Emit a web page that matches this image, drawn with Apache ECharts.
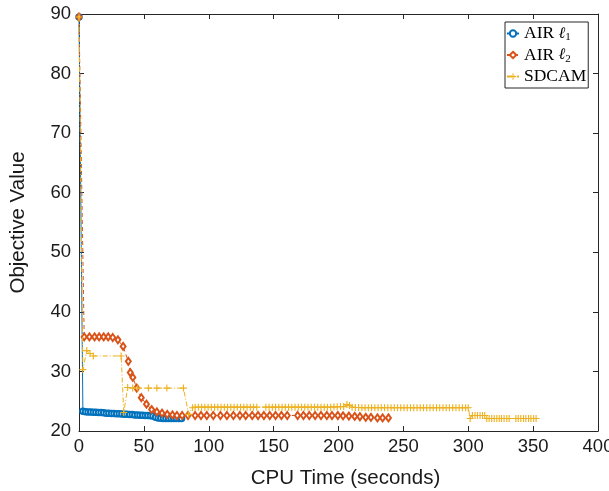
<!DOCTYPE html>
<html>
<head>
<meta charset="utf-8">
<script src="https://cdn.jsdelivr.net/npm/echarts@6/dist/echarts.min.js"></script>
<style>
  html, body { margin: 0; padding: 0; background: #ffffff; }
  #chart { width: 609px; height: 491px; }
</style>
</head>
<body>
<div id="chart"></div>
<script>
// Objective value versus CPU time for three solvers.
var xTicks = [0, 50, 100, 150, 200, 250, 300, 350, 400];
var yTicks = [20, 30, 40, 50, 60, 70, 80, 90];

var airL1Time = [0, 3, 5, 7, 9, 11, 13, 15, 17, 19, 21, 23, 25, 27, 29, 31, 33, 35, 37, 39, 41, 43, 45, 47, 49, 51, 53, 55, 57, 59, 61, 63, 65, 67, 69, 71, 73, 75, 77, 79];
var airL1Value = [89.5, 23.3, 23.25, 23.2, 23.2, 23.15, 23.15, 23.1, 23.1, 23.05, 23.0, 23.0, 22.95, 22.95, 22.9, 22.9, 22.85, 22.8, 22.8, 22.75, 22.75, 22.7, 22.7, 22.65, 22.65, 22.6, 22.6, 22.55, 22.5, 22.3, 22.2, 22.15, 22.1, 22.1, 22.1, 22.1, 22.1, 22.1, 22.1, 22.1];

var airL2Time = [0, 4, 8, 12, 15.5, 19, 22.5, 26, 30, 34, 38, 39.5, 41.5, 44.5, 48, 52, 56, 60, 64, 68, 72, 75.5, 79.5, 84, 89.5, 94, 98.5, 103.5, 109, 114, 119, 124, 128.5, 133.5, 138, 142.5, 147, 151.5, 156, 160.5, 168.5, 173, 177.5, 182, 186.5, 191, 195, 199.5, 203.5, 208, 212.5, 216.5, 221, 225, 230, 234, 238.5];
var airL2Value = [89.5, 35.8, 35.8, 35.8, 35.8, 35.8, 35.8, 35.7, 35.3, 34.2, 31.7, 29.8, 29.0, 27.2, 25.6, 24.5, 23.6, 23.2, 23.0, 22.8, 22.7, 22.6, 22.6, 22.6, 22.6, 22.6, 22.6, 22.6, 22.6, 22.6, 22.6, 22.6, 22.6, 22.6, 22.6, 22.6, 22.6, 22.6, 22.6, 22.6, 22.6, 22.6, 22.6, 22.6, 22.6, 22.6, 22.6, 22.6, 22.55, 22.5, 22.45, 22.4, 22.3, 22.3, 22.2, 22.2, 22.2];

var sdcamTime = [0, 3, 6, 8.5, 11, 32.5, 34.5, 37.5, 41.4, 45.3, 53.5, 60, 67.7, 80.5, 84.5, 87.5, 89.5, 92, 94.5, 97, 99.5, 102, 104.5, 107, 109.5, 112, 114.5, 117, 119.5, 122, 124.5, 127, 129.5, 132, 134.5, 137, 144, 146.5, 149, 151.5, 154, 156.5, 159, 161.5, 164, 166.5, 169, 171.5, 174, 176.5, 179, 181.5, 184, 186.5, 189, 191.5, 194, 196.5, 199, 201.5, 204, 206.5, 208.5, 210.5, 213, 215.5, 218, 220.5, 223, 225.5, 228, 230.5, 233, 235.5, 238, 240.5, 243, 245.5, 248, 250.5, 253, 255.5, 258, 260.5, 263, 265.5, 268, 270.5, 273, 275.5, 278, 280.5, 283, 285.5, 288, 290.5, 293, 295.5, 298, 300, 301.5, 303.2, 305.2, 307.1, 309.1, 311, 312.7, 314.3, 316.1, 318.1, 320, 322, 323.9, 325.6, 327.6, 329.7, 331.5, 336.7, 338.5, 340.5, 342.6, 344.4, 346.5, 348.3, 350.4, 352.3];
var sdcamValue = [89.5, 30.3, 33.5, 33.0, 32.6, 32.6, 23.1, 27.3, 27.2, 27.2, 27.2, 27.2, 27.2, 27.2, 22.8, 23.9, 24.0, 24.0, 24.0, 24.0, 24.0, 24.0, 24.0, 24.0, 24.0, 24.0, 24.0, 24.0, 24.0, 24.0, 24.0, 24.0, 24.0, 24.0, 24.0, 24.0, 24.0, 24.0, 24.0, 24.0, 24.0, 24.0, 24.0, 24.0, 24.0, 24.0, 24.0, 24.0, 24.0, 24.0, 24.0, 24.0, 24.0, 24.0, 24.0, 24.0, 24.0, 24.05, 24.05, 24.1, 24.1, 24.45, 24.3, 24.0, 23.95, 23.95, 23.9, 23.9, 23.9, 23.9, 23.9, 23.9, 23.9, 23.9, 23.9, 23.9, 23.9, 23.9, 23.9, 23.9, 23.9, 23.9, 23.9, 23.9, 23.9, 23.9, 23.9, 23.9, 23.9, 23.9, 23.9, 23.9, 23.9, 23.9, 23.9, 23.9, 23.9, 23.9, 23.9, 23.9, 22.1, 22.6, 22.6, 22.6, 22.6, 22.6, 22.6, 22.1, 22.1, 22.1, 22.1, 22.1, 22.1, 22.1, 22.1, 22.1, 22.1, 22.1, 22.1, 22.1, 22.1, 22.1, 22.1, 22.1, 22.1, 22.1];

var seriesNames = ['AIR \u21131', 'AIR \u21132', 'SDCAM'];
var colors = ['#0072BD', '#D95319', '#EDB120'];

function pairs(t, v) {
  return t.map(function (x, i) { return [x, v[i]]; });
}

var axisColor = '#262626';
var tickFont = { fontFamily: 'Liberation Sans', fontSize: 18.5, color: '#1a1a1a' };
var nameFont = { fontFamily: 'Liberation Sans', fontSize: 20.5, color: '#1a1a1a' };
// plus-sign marker built from two thin bars
var plusPath = 'path://M0,4.2H10V5.8H0Z M4.2,0H5.8V10H4.2Z';

function valueAxis(extra) {
  var base = {
    type: 'value',
    axisLine: { show: true, onZero: false, lineStyle: { color: axisColor, width: 1 } },
    axisTick: { show: true, inside: true, length: 5, lineStyle: { color: axisColor } },
    splitLine: { show: false },
    axisLabel: Object.assign({}, tickFont)
  };
  return Object.assign(base, extra);
}

var chart = echarts.init(document.getElementById('chart'), null, { renderer: 'canvas' });

chart.setOption({
  animation: false,
  backgroundColor: '#ffffff',
  grid: { left: 79, right: 11, top: 14, bottom: 60, containLabel: false, outerBoundsMode: 'none' },
  xAxis: [
    valueAxis({
      position: 'bottom', min: xTicks[0], max: xTicks[xTicks.length - 1], interval: 50,
      name: 'CPU Time (seconds)', nameLocation: 'middle', nameGap: 37,
      nameTextStyle: Object.assign({ padding: [0, 0, 0, 14] }, nameFont),
      axisLabel: Object.assign({ margin: 6 }, tickFont)
    }),
    valueAxis({
      position: 'top', min: xTicks[0], max: xTicks[xTicks.length - 1], interval: 50,
      axisLabel: { show: false }
    })
  ],
  yAxis: [
    valueAxis({
      position: 'left', min: yTicks[0], max: yTicks[yTicks.length - 1], interval: 10,
      name: 'Objective Value', nameLocation: 'middle', nameGap: 50,
      nameTextStyle: nameFont,
      axisLabel: Object.assign({ margin: 8 }, tickFont)
    }),
    valueAxis({
      position: 'right', min: yTicks[0], max: yTicks[yTicks.length - 1], interval: 10,
      axisLabel: { show: false }
    })
  ],
  legend: {
    orient: 'vertical',
    left: 505, top: 22,
    data: seriesNames,
    itemWidth: 12, itemHeight: 8, itemGap: 2.5,
    padding: [2, 2, 2, 1],
    borderColor: axisColor, borderWidth: 1,
    backgroundColor: '#ffffff',
    formatter: function (name) {
      if (name === seriesNames[0]) return '{t|AIR }{l|\u2113}{s|1}';
      if (name === seriesNames[1]) return '{t|AIR }{l|\u2113}{s|2}';
      return '{t|SDCAM}';
    },
    textStyle: {
      fontFamily: 'Liberation Serif', fontSize: 17.5, color: '#000', lineHeight: 19,
      rich: {
        t: { fontFamily: 'Liberation Serif', fontSize: 17.5, color: '#000', lineHeight: 19 },
        l: { fontFamily: 'DejaVu Serif', fontStyle: 'italic', fontSize: 16, color: '#000', lineHeight: 19 },
        s: { fontFamily: 'Liberation Serif', fontSize: 11, color: '#000', lineHeight: 19, verticalAlign: 'bottom', padding: [7, 0, 0, 0] }
      }
    }
  },
  series: [
    {
      name: seriesNames[0], type: 'line', xAxisIndex: 0, yAxisIndex: 0,
      data: pairs(airL1Time, airL1Value),
      color: colors[0],
      lineStyle: { color: colors[0], width: 1, type: 'solid' },
      symbol: 'emptyCircle', symbolSize: 5.5,
      itemStyle: { color: colors[0], borderColor: colors[0], borderWidth: 1 },
      z: 2
    },
    {
      name: seriesNames[1], type: 'line', xAxisIndex: 0, yAxisIndex: 0,
      data: pairs(airL2Time, airL2Value),
      color: colors[1],
      lineStyle: { color: colors[1], width: 1, type: [4, 3] },
      symbol: 'emptyDiamond', symbolSize: [5, 7],
      itemStyle: { color: colors[1], borderColor: colors[1], borderWidth: 1 },
      z: 3
    },
    {
      name: seriesNames[2], type: 'line', xAxisIndex: 0, yAxisIndex: 0,
      data: pairs(sdcamTime, sdcamValue),
      color: colors[2],
      lineStyle: { color: colors[2], width: 1, type: [5, 2, 1, 2] },
      symbol: plusPath, symbolSize: 7,
      itemStyle: { color: colors[2], borderWidth: 0 },
      z: 4
    }
  ]
});
</script>
</body>
</html>
